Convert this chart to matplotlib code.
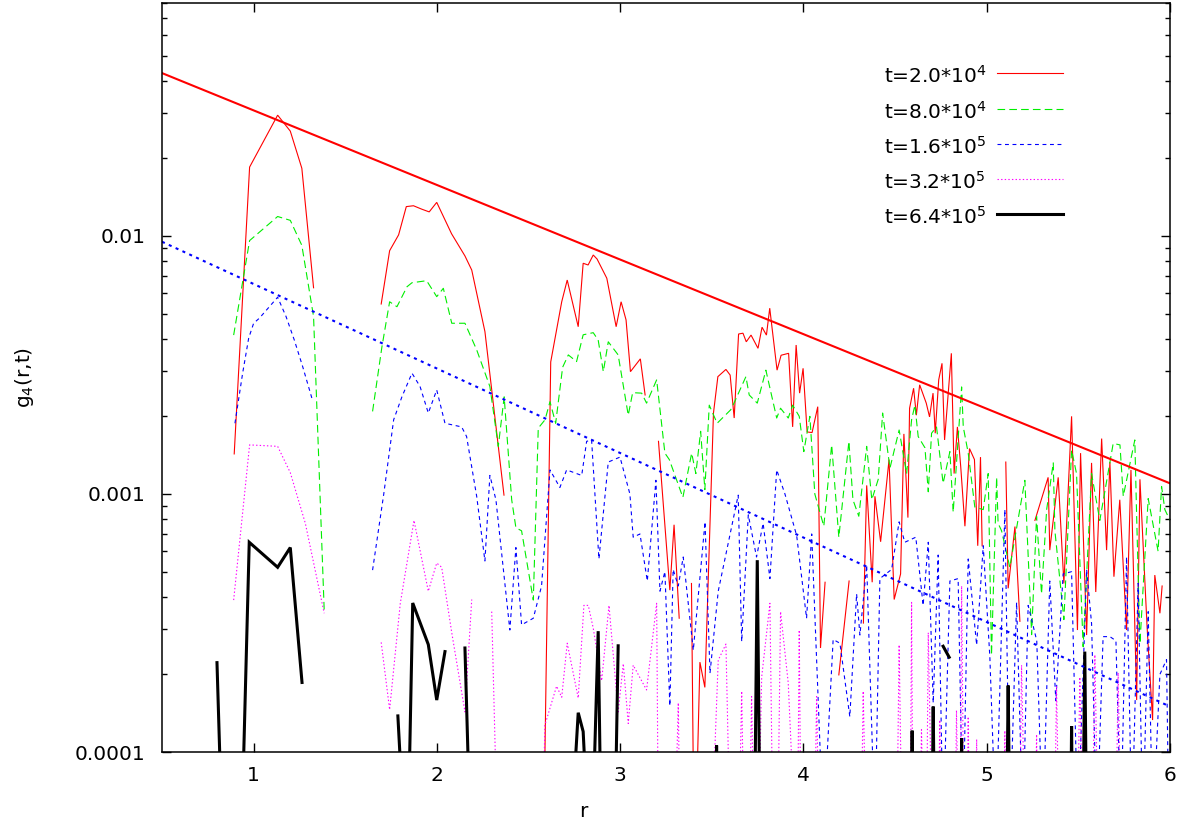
import numpy as np
import matplotlib
matplotlib.use("Agg")
import matplotlib.pyplot as plt
from matplotlib.lines import Line2D
from matplotlib.ticker import LogLocator, FuncFormatter, NullFormatter

plt.rcParams['font.family'] = ['DejaVu Sans']
plt.rcParams['mathtext.fontset'] = 'dejavusans'
plt.rcParams['lines.scale_dashes'] = False

# g4(r,t) for five times; 0 marks r values with no data (line breaks)
r_a = [0.894, 0.978, 1.131, 1.200, 1.263, 1.327, 1.360,
       1.696, 1.742, 1.791, 1.833, 1.872, 1.918, 1.958, 1.999, 2.080, 2.153, 2.190, 2.262, 2.366, 2.400,
       2.575, 2.621, 2.681, 2.711, 2.771, 2.798, 2.825, 2.853, 2.874, 2.927, 2.978, 3.005, 3.032, 3.056,
       3.110, 3.136, 3.170,
       3.209, 3.271, 3.294, 3.322, 3.350,
       3.389, 3.405, 3.435, 3.462, 3.509, 3.533, 3.577, 3.600, 3.622, 3.646, 3.670, 3.688, 3.714, 3.752,
       3.774, 3.798, 3.816, 3.856, 3.878, 3.919, 3.941, 3.960, 3.979, 3.998, 4.020, 4.047, 4.078, 4.093,
       4.118, 4.150,
       4.193, 4.249, 4.290,
       4.327, 4.345, 4.375, 4.390, 4.421, 4.467, 4.495, 4.530, 4.548, 4.570, 4.579, 4.601, 4.616, 4.634,
       4.670, 4.688, 4.707, 4.719, 4.738, 4.756, 4.770, 4.807, 4.822, 4.840, 4.858, 4.881, 4.906, 4.933,
       4.951, 4.966, 4.975, 5.040,
       5.104, 5.117, 5.154, 5.181, 5.220, 5.263, 5.335, 5.344, 5.390, 5.421, 5.463, 5.495, 5.512, 5.545,
       5.572, 5.595, 5.627, 5.654, 5.672, 5.694, 5.726, 5.763, 5.787, 5.818, 5.836, 5.875, 5.905, 5.917,
       5.945, 5.957]
g_a = [0.00143, 0.0185, 0.0294, 0.0255, 0.0183, 0.0063, 0,
       0.00545, 0.00877, 0.0101, 0.0130, 0.0131, 0.0127, 0.0124, 0.0135, 0.0102, 0.00837, 0.00738, 0.00426, 0.00099, 0,
       0.00002, 0.00325, 0.00556, 0.00675, 0.00445, 0.00784, 0.00772, 0.00844, 0.00814, 0.00686, 0.00445, 0.00556,
       0.00473, 0.00298, 0.00334, 0.00242, 0,
       0.0016, 0.000424, 0.00076, 0.00033, 0,
       0.00045, 0.00003, 0.000223, 0.000178, 0.00206, 0.00285, 0.00304, 0.00289, 0.00197, 0.00417, 0.0042,
       0.00389, 0.00413, 0.00367, 0.00443, 0.00413, 0.00525, 0.00302, 0.00345, 0.00351, 0.00182, 0.00378,
       0.00246, 0.00307, 0.00174, 0.00173, 0.00218, 0.000253, 0.000455, 0,
       0.000199, 0.00046, 0,
       0.000316, 0.00108, 0.000455, 0.00098, 0.000653, 0.00136, 0.00039, 0.00049, 0.00171, 0.00081, 0.00215,
       0.00257, 0.00202, 0.00265, 0.00225, 0.00199, 0.00246, 0.00172, 0.00277, 0.00321, 0.00162, 0.00351,
       0.0012, 0.00182, 0.00128, 0.00075, 0.0015, 0.00136, 0.00063, 0.00139, 0.00063, 0,
       0.00133, 0.000431, 0.000748, 0.000321, 0, 0.00079, 0.00116, 0.000606, 0.00116, 0.00045, 0.002,
       0.000297, 0.00144, 0.000284, 0.00132, 0.000417, 0.00164, 0.000606, 0.00133, 0.000478, 0.00095,
       0.000297, 0.00124, 0.000159, 0.00114, 0.000305, 0.000133, 0.000485, 0.000345, 0.00044]

r_b = [0.891, 0.978, 1.131, 1.200, 1.263, 1.327, 1.385, 1.420,
       1.649, 1.700, 1.742, 1.782, 1.837, 1.864, 1.944, 1.999, 2.035, 2.081, 2.153, 2.217, 2.289, 2.335,
       2.367, 2.408, 2.431, 2.462, 2.526, 2.553, 2.590, 2.617, 2.648, 2.686, 2.717, 2.762, 2.798, 2.853,
       2.880, 2.908, 2.935, 2.989, 3.044, 3.068, 3.117, 3.144, 3.199, 3.244, 3.268, 3.342, 3.390, 3.413,
       3.439, 3.462, 3.486, 3.529, 3.603, 3.621, 3.686, 3.704, 3.748, 3.795, 3.854, 3.875, 3.917, 3.941,
       3.977, 4.002, 4.035, 4.062, 4.111, 4.154, 4.177, 4.193, 4.248, 4.270, 4.302, 4.345, 4.373, 4.408,
       4.432, 4.472, 4.522, 4.563, 4.590, 4.608, 4.626, 4.663, 4.681, 4.699, 4.726, 4.762, 4.799, 4.817,
       4.863, 4.872, 4.899, 4.935, 4.981, 5.008, 5.026, 5.054, 5.062, 5.081, 5.126, 5.199, 5.208, 5.245,
       5.272, 5.299, 5.327, 5.363, 5.372, 5.421, 5.463, 5.490, 5.526, 5.572, 5.617, 5.690, 5.727, 5.745,
       5.808, 5.818, 5.836, 5.881, 5.935, 5.954, 5.972, 6.000]
g_b = [0.00413, 0.0096, 0.0119, 0.0115, 0.0092, 0.00487, 0.000355, 0,
       0.00209, 0.00372, 0.00556, 0.00532, 0.00636, 0.00659, 0.00671, 0.00582, 0.00627, 0.00459, 0.00459,
       0.00362, 0.00261, 0.00153, 0.00238, 0.00095, 0.00074, 0.00072, 0.000388, 0.0018, 0.00194, 0.00228,
       0.00188, 0.0031, 0.00346, 0.00326, 0.00414, 0.00422, 0.00395, 0.00298, 0.00389, 0.00346, 0.00202,
       0.00247, 0.00246, 0.00225, 0.00277, 0.00144, 0.00136, 0.00097, 0.00144, 0.0012, 0.00175, 0.00104,
       0.00221, 0.00188, 0.00212, 0.00225, 0.00285, 0.00242, 0.00225, 0.00302, 0.00197, 0.00215, 0.00197,
       0.00221, 0.002, 0.00146, 0.002, 0.001, 0.00075, 0.00155, 0.00095, 0.00068, 0.0016, 0.00095, 0.00082,
       0.00153, 0.00095, 0.00114, 0.00206, 0.00126, 0.00177, 0.0012, 0.00194, 0.00221, 0.00167, 0.00151,
       0.00102, 0.00172, 0.00182, 0.0011, 0.00146, 0.00085, 0.0026, 0.00182, 0.00144, 0.00089, 0.00087,
       0.0012, 0.000237, 0.00116, 0.00077, 0.00072, 0.00052, 0.00104, 0.00113, 0.000285, 0.00082, 0.00041,
       0.00087, 0.00132, 0.00072, 0.000326, 0.00148, 0.0012, 0.000256, 0.0012, 0.00079, 0.00157, 0.00155,
       0.00098, 0.00162, 0.00082, 0.000263, 0.00096, 0.0006, 0.00107, 0.00087, 0.00079]

r_c = [0.898, 0.940, 0.973, 1.000, 1.031, 1.131, 1.177, 1.222, 1.268, 1.318, 1.350,
       1.649, 1.710, 1.764, 1.809, 1.864, 1.908, 1.953, 1.999, 2.044, 2.135, 2.162, 2.217, 2.262, 2.289,
       2.322, 2.398, 2.431, 2.462, 2.526, 2.571, 2.617, 2.671, 2.708, 2.790, 2.817, 2.844, 2.884, 2.935,
       2.999, 3.053, 3.071, 3.108, 3.148, 3.195, 3.217, 3.244, 3.271, 3.289, 3.317, 3.344, 3.399, 3.463,
       3.490, 3.535, 3.644, 3.663, 3.699, 3.744, 3.780, 3.817, 3.854, 3.899, 3.963, 4.017, 4.045, 4.108,
       4.162, 4.199, 4.253, 4.290, 4.308, 4.345, 4.390, 4.417, 4.481, 4.522, 4.553, 4.613, 4.653, 4.681,
       4.708, 4.735, 4.762, 4.799, 4.844, 4.870, 4.899, 4.945, 4.981, 5.017, 5.050, 5.099, 5.126, 5.163,
       5.197, 5.226, 5.273, 5.306, 5.344, 5.377, 5.417, 5.463, 5.497, 5.545, 5.572, 5.601, 5.635, 5.672,
       5.705, 5.732, 5.763, 5.792, 5.826, 5.852, 5.881, 5.906, 5.945, 5.981, 5.994]
g_c = [0.00188, 0.00294, 0.00402, 0.00459, 0.0048, 0.00579, 0.00487, 0.00395, 0.00311, 0.00235, 0,
       0.000507, 0.001, 0.00194, 0.00238, 0.00294, 0.00261, 0.00206, 0.00253, 0.00188, 0.00182, 0.00167,
       0.00098, 0.00055, 0.00118, 0.00095, 0.000297, 0.00062, 0.000311, 0.00033, 0.00044, 0.00124, 0.00106,
       0.00124, 0.00118, 0.0016, 0.00162, 0.00056, 0.00133, 0.00139, 0.001, 0.00068, 0.0007, 0.00046,
       0.00113, 0.00042, 0.0005, 0.000151, 0.00051, 0.00044, 0.00057, 0.000248, 0.00078, 0.000202, 0.00042,
       0.00099, 0.000268, 0.00083, 0.00057, 0.00077, 0.00047, 0.00124, 0.001, 0.00069, 0.00033, 0.0007,
       0.00005, 0.000273, 0.000264, 0.000137, 0.00041, 0.000284, 0.00053, 0.00005, 0.00047, 0.00051,
       0.00078, 0.00065, 0.00068, 0.00037, 0.00065, 0.000155, 0.00058, 0.00005, 0.00046, 0.00047, 0.00005,
       0.00056, 0.00026, 0.00063, 0.000234, 0.00005, 0.00087, 0.00005, 0.00038, 0.00005, 0.00037, 0.00027,
       0.00005, 0.00046, 0.000158, 0.00049, 0.0005, 0.00005, 0.00051, 0.000315, 0.00005, 0.00028, 0.00028,
       0.00027, 0.00005, 0.00057, 0.00005, 0.00045, 0.00005, 0.00035, 0.00005, 0.0002, 0.000228, 0.00005]

r_d = [0.891, 0.978, 1.131, 1.200, 1.282, 1.385, 1.420,
       1.696, 1.742, 1.800, 1.875, 1.953, 1.999, 2.026, 2.081, 2.153, 2.190, 2.240,
       2.299, 2.329, 2.578, 2.589, 2.653, 2.681, 2.711, 2.771, 2.802, 2.826, 2.853, 2.899, 2.939, 2.989,
       3.017, 3.044, 3.071, 3.144, 3.199, 3.208, 3.299, 3.317, 3.326, 3.500, 3.535, 3.577, 3.599, 3.648,
       3.663, 3.675, 3.705, 3.717, 3.730, 3.755, 3.772, 3.817, 3.833, 3.860, 3.875, 3.917, 3.953, 3.968,
       3.977, 3.986, 4.060, 4.072, 4.084, 4.315, 4.326, 4.341, 4.510, 4.522, 4.537, 4.583, 4.590, 4.597,
       4.635, 4.644, 4.655, 4.672, 4.681, 4.701, 4.735, 4.744, 4.752, 4.828, 4.835, 4.845, 4.856, 4.863,
       4.875, 4.892, 4.899, 4.906, 4.938, 4.945, 4.952, 5.092, 5.099, 5.106, 5.180, 5.190, 5.208, 5.265,
       5.272, 5.279, 5.370, 5.381, 5.394, 5.495, 5.508, 5.524, 5.577, 5.590, 5.607, 5.705, 5.717, 5.732]
g_d = [0.000388, 0.00155, 0.00153, 0.00121, 0.00077, 0.000345, 0,
       0.000266, 0.000146, 0.000376, 0.00079, 0.00042, 0.00054, 0.00052, 0.00029, 0.000143, 0.00039, 0,
       0.00035, 0.00005, 0.00005, 0.000127, 0.00018, 0.000163, 0.000264, 0.000162, 0.00037, 0.00037,
       0.000302, 0.000189, 0.00037, 0.000143, 0.00022, 0.000129, 0.000217, 0.000174, 0.000377, 0.00005,
       0.00005, 0.000155, 0.00005, 0.00005, 0.000227, 0.000262, 0.00005, 0.00005, 0.000172, 0.00005,
       0.00005, 0.000164, 0.00005, 0.00005, 0.000195, 0.000377, 0.00005, 0.00005, 0.00035, 0.000185,
       0.00005, 0.00005, 0.000297, 0.00005, 0.00005, 0.000164, 0.00005, 0.00005, 0.000172, 0.00005,
       0.00005, 0.00026, 0.00005, 0.00005, 0.00038, 0.00005, 0.00005, 0.000122, 0.00005, 0.00005, 0.00029,
       0.00005, 0.00005, 0.000133, 0.00005, 0.00005, 0.000145, 0.00005, 0.00005, 0.00044, 0.00005,
       0.00005, 0.000137, 0.00005, 0.00005, 0.000112, 0.00005, 0.00005, 0.000121, 0.00005, 0.00005,
       0.000217, 0.00005, 0.00005, 0.000117, 0.00005, 0.00005, 0.000179, 0.00005, 0.00005, 0.000195,
       0.00005, 0.00005, 0.000238, 0.00005, 0.00005, 0.000203, 0.00005]

r_e = [0.800, 0.837, 0.927, 0.976, 1.131, 1.200, 1.264, 1.300,
       1.787, 1.837, 1.868, 1.953, 1.999, 2.044, 2.100, 2.153, 2.190,
       2.715, 2.771, 2.798, 2.840, 2.880, 2.900, 2.966, 2.989, 3.020,
       3.511, 3.526, 3.539, 3.730, 3.748, 3.766, 4.580, 4.593, 4.606, 4.698, 4.708, 4.718, 4.740,
       4.762, 4.795, 4.810, 4.855, 4.863, 4.871, 5.105, 5.117, 5.129, 5.455, 5.463, 5.471, 5.522,
       5.535, 5.548]
g_e = [0.000222, 0.00003, 0.00003, 0.00065, 0.00052, 0.00062, 0.000186, 0,
       0.000138, 0.00003, 0.000378, 0.000261, 0.000159, 0.000245, 0, 0.000253, 0.00003,
       0.00003, 0.000142, 0.00012, 0.00003, 0.000294, 0.00003, 0.00003, 0.000258, 0,
       0.00003, 0.000106, 0.00003, 0.00003, 0.000554, 0.00003, 0.00003, 0.000121, 0.00003, 0.00003,
       0.00015, 0.00003, 0, 0.000257, 0.000233, 0, 0.00003, 0.000113, 0.00003, 0.00003, 0.000181,
       0.00003, 0.00003, 0.000126, 0.00003, 0.00003, 0.000245, 0.00003]

labels = ['t=2.0*10$^4$', 't=8.0*10$^4$', 't=1.6*10$^5$', 't=3.2*10$^5$', 't=6.4*10$^5$']

# exponential guides, values at r = 0.5 and r = 6
r_fit = [0.5, 6.0]
g_fit_red = [0.0428, 0.0011]
g_fit_blue = [0.0095, 0.00015]

W, H = 1193, 823
fig = plt.figure(figsize=(W / 100, H / 100), dpi=100)
ax = fig.add_axes([162 / W, 1 - 752 / H, (1170 - 162) / W, (752 - 3) / H])

styles = [
    dict(color='#ff0000', lw=0.8),
    dict(color='#00ee00', lw=0.8, dashes=(5.5, 3)),
    dict(color='#0000ff', lw=0.8, dashes=(2.8, 2.6)),
    dict(color='#ff00ff', lw=0.8, dashes=(1.0, 1.6)),
    dict(color='black', lw=2.2),
]
series = [(r_a, g_a), (r_b, g_b), (r_c, g_c), (r_d, g_d), (r_e, g_e)]

for (r, g), st in zip(series, styles):
    g = np.array(g, dtype=float)
    g[g <= 0] = np.nan
    ax.plot(r, g, solid_joinstyle='miter', **st)

ax.plot(r_fit, g_fit_red, color='#ff0000', lw=1.5)
ax.plot(r_fit, g_fit_blue, color='#0000ff', lw=1.5, dashes=(2.2, 3.2))

ax.set_yscale('log')
ax.set_xlim(0.5, 6)
ax.set_ylim(1e-4, 0.08)
ax.set_xticks([1, 2, 3, 4, 5, 6])
ax.yaxis.set_major_locator(LogLocator(base=10, numticks=10))
ax.yaxis.set_minor_locator(LogLocator(base=10, subs=np.arange(2, 10), numticks=20))
ax.yaxis.set_major_formatter(FuncFormatter(lambda v, p: f'{v:g}'))
ax.yaxis.set_minor_formatter(NullFormatter())

ax.tick_params(which='both', direction='in', top=True, right=True, width=1.0, labelsize=14.5)
ax.tick_params(which='major', length=6.5)
ax.tick_params(which='minor', length=3.3)
ax.tick_params(axis='y', pad=12)
ax.tick_params(axis='x', pad=10)
for sp in ax.spines.values():
    sp.set_linewidth(1.1)

ax.set_xlabel('r', fontsize=14.5)
ax.xaxis.set_label_coords((583 - 162) / 1008, -0.067)
ax.set_ylabel('g$_4$(r,t)', fontsize=14.5)
ax.yaxis.set_label_coords((36 - 162) / 1008, 0.5)

# key: label on the left, line sample on the right
rows = [73, 109, 144, 179, 214]
for y, lab, st in zip(rows, labels, styles):
    fig.text(884 / W, 1 - (y + 9.5) / H, lab, fontsize=14.5, ha='left', va='baseline')
    fig.add_artist(Line2D([997 / W, 1063 / W], [1 - y / H, 1 - y / H],
                          transform=fig.transFigure, **st))

fig.savefig('out.png', dpi=100)
